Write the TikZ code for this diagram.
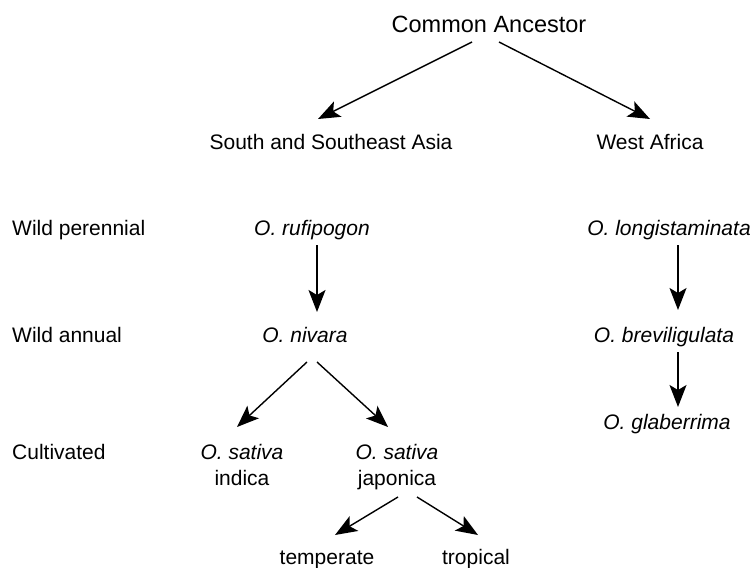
\documentclass[tikz,border=0pt]{standalone}
\usepackage{fontspec}
\setmainfont{Liberation Sans}
\usetikzlibrary{arrows.meta,calc}
\tikzset{
  lbl/.style={anchor=base, inner sep=0pt, font=\fontsize{21}{26}\selectfont},
  side/.style={lbl, anchor=base west},
  head/.style={anchor=base, inner sep=0pt, font=\fontsize{23.5}{28}\selectfont},
  arr/.style={line width=1.4pt, -{Stealth[length=22pt,width=17pt,inset=5pt]}}
}
\begin{document}
\begin{tikzpicture}[x=1pt,y=-1pt]
\useasboundingbox (0,0) rectangle (751,567);
\node[head] (ca) at (489,33) {Common Ancestor};
\node[lbl] (sa) at (331,149) {South and Southeast Asia};
\node[lbl] (wa) at (650,149) {West Africa};
\node[side] (wp) at (12,235) {Wild perennial};
\node[side] (wan) at (12,342) {Wild annual};
\node[side] (cult) at (12,459) {Cultivated};
\node[lbl] (ruf) at (312,235) {\textit{O. rufipogon}};
\node[lbl] (lon) at (669,235) {\textit{O. longistaminata}};
\node[lbl] (niv) at (305,342) {\textit{O. nivara}};
\node[lbl] (brev) at (664,342) {\textit{O. breviligulata}};
\node[lbl] (glab) at (667,429) {\textit{O. glaberrima}};
\node[lbl] (ind) at (242,459) {\begin{tabular}[t]{@{}c@{}}\textit{O. sativa}\\ indica\end{tabular}};
\node[lbl] (jap) at (397,459) {\begin{tabular}[t]{@{}c@{}}\textit{O. sativa}\\ japonica\end{tabular}};
\node[lbl] (temp) at (327,564) {temperate};
\node[lbl] (trop) at (476,564) {tropical};
\draw[arr] ($(ca.base)+(-17,9)$) -- ($(sa.base)+(-13,-30)$);
\draw[arr] ($(ca.base)+(10,9)$) -- ($(wa.base)+(0,-30)$);
\draw[arr] ($(ruf.base)+(5,10)$) -- ($(niv.base)+(12,-30)$);
\draw[arr] ($(niv.base)+(2,20)$) -- ($(ind.base)+(-5,-32)$);
\draw[arr] ($(niv.base)+(12,20)$) -- ($(jap.base)+(-9,-32)$);
\draw[arr] ($(lon.base)+(9,10)$) -- ($(brev.base)+(14,-32)$);
\draw[arr] ($(brev.base)+(14,10)$) -- ($(glab.base)+(11,-22)$);
\draw[arr] ($(jap.base)+(1,38)$) -- ($(temp.base)+(8,-29)$);
\draw[arr] ($(jap.base)+(20,38)$) -- ($(trop.base)+(2,-29)$);
\end{tikzpicture}
\end{document}
